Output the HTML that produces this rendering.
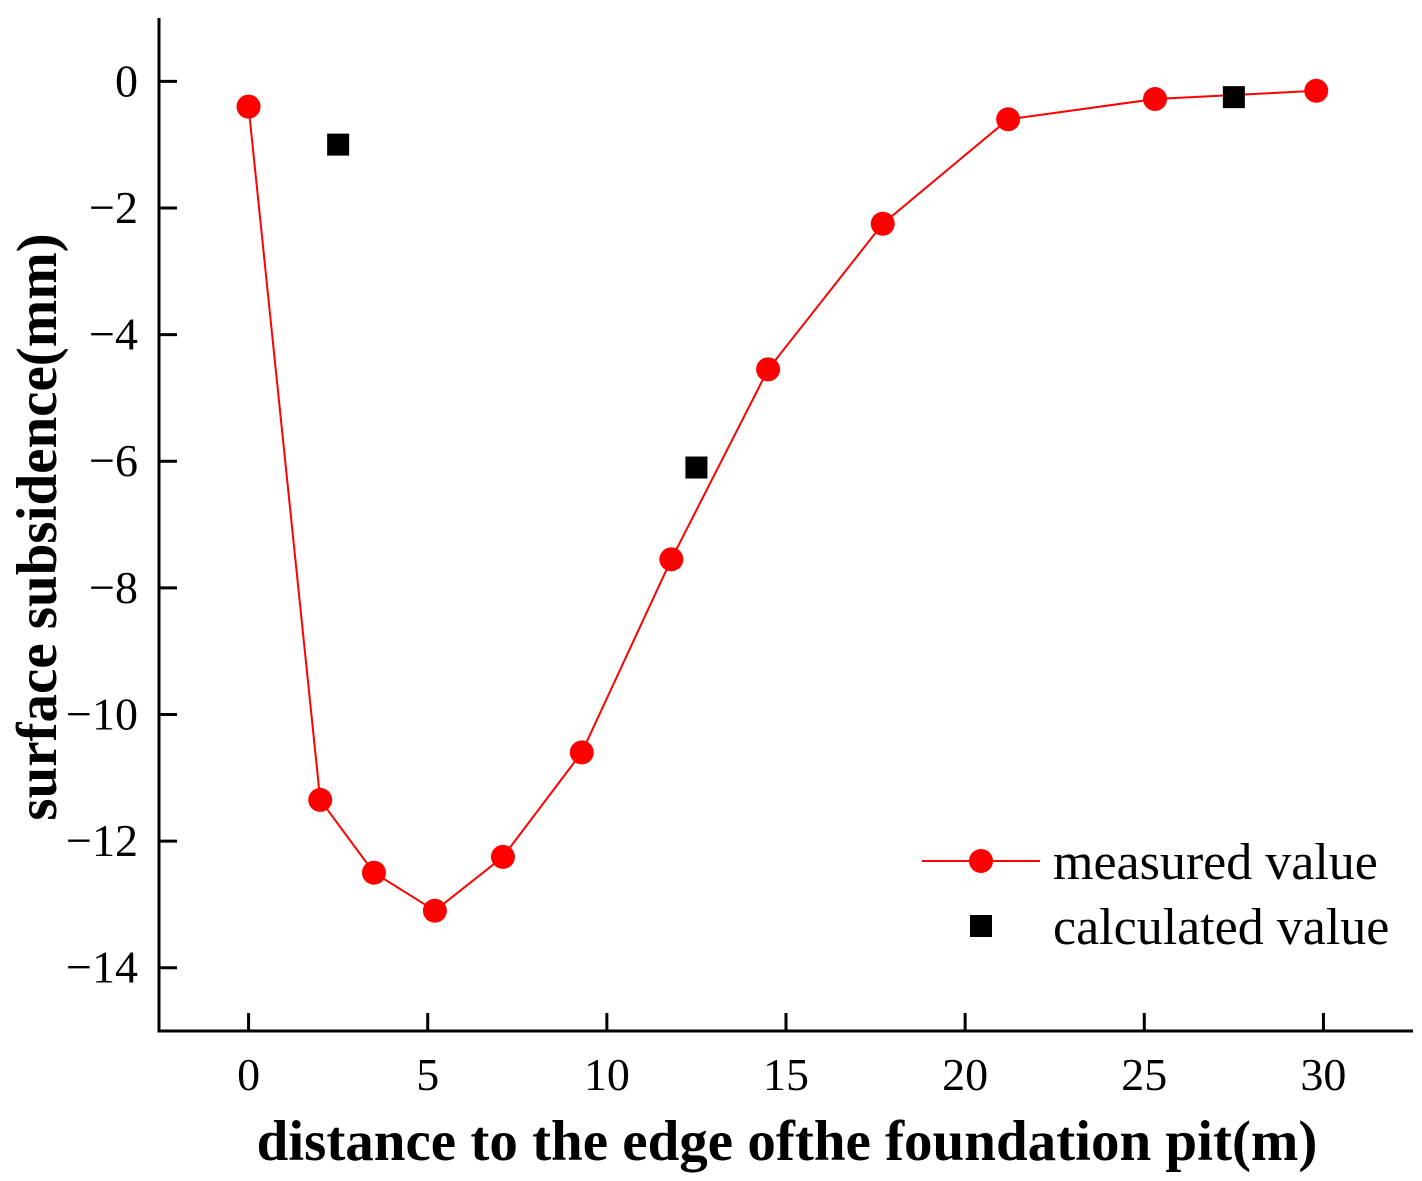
<!DOCTYPE html>
<html><head><meta charset="utf-8"><style>
body{margin:0;background:#fff}
svg{display:block;font-family:"Liberation Serif",serif}
</style></head><body>
<svg id="chart" width="1422" height="1181" viewBox="0 0 1422 1181"></svg>
<script>
const measuredX=[0,2,3.5,5.2,7.1,9.3,11.8,14.5,17.7,21.2,25.3,29.8];
const measuredY=[-0.4,-11.35,-12.5,-13.1,-12.25,-10.6,-7.55,-4.55,-2.25,-0.6,-0.28,-0.15];
const calcX=[2.5,12.5,27.5];
const calcY=[-1.0,-6.1,-0.25];
const xTicks=[0,5,10,15,20,25,30];
const yTicks=[0,-2,-4,-6,-8,-10,-12,-14];

const NS="http://www.w3.org/2000/svg";
const svg=document.getElementById('chart');
const X0=159,X1=1413,Y0=18,Y1=1031;
const xmin=-2.5,xmax=32.5,ymin=-15,ymax=1;
const sx=v=>X0+(v-xmin)/(xmax-xmin)*(X1-X0);
const sy=v=>Y1-(v-ymin)/(ymax-ymin)*(Y1-Y0);
function mk(t,a,txt){const e=document.createElementNS(NS,t);for(const k in a)e.setAttribute(k,a[k]);if(txt!==undefined)e.textContent=txt;svg.appendChild(e);return e;}

let e;
e=mk('line',{x1:X0,y1:Y0,x2:X0,y2:Y1+1.5,stroke:'#000','stroke-width':3});


e=mk('line',{x1:X0-1.5,y1:Y1,x2:X1,y2:Y1,stroke:'#000','stroke-width':3});



xTicks.forEach(v=>{
  e=mk('line',{x1:sx(v),y1:Y1,x2:sx(v),y2:Y1-18,stroke:'#000','stroke-width':3});
  
  
  e=mk('text',{x:sx(v),y:1090,'text-anchor':'middle','font-size':46},String(v));
  
  
});
yTicks.forEach(v=>{
  e=mk('line',{x1:X0,y1:sy(v),x2:X0+18,y2:sy(v),stroke:'#000','stroke-width':3});
  
  
  e=mk('text',{x:138,y:sy(v)+15,'text-anchor':'end','font-size':46},(v<0?'\u2212'+(-v):String(v)));
  
  
});

e=mk('text',{x:787,y:1160,'text-anchor':'middle','font-size':57,'font-weight':'bold'},'distance to the edge ofthe foundation pit(m)');


e=mk('text',{x:0,y:0,'text-anchor':'middle','font-size':57,'font-weight':'bold',transform:'translate(56,527) rotate(-90)'},'surface subsidence(mm)');



e=mk('polyline',{points:measuredX.map((x,i)=>sx(x)+','+sy(measuredY[i])).join(' '),fill:'none',stroke:'#ff0000','stroke-width':2});


measuredX.forEach((x,i)=>{
  e=mk('circle',{cx:sx(x),cy:sy(measuredY[i]),r:12,fill:'#ff0000'});
  
  
});
calcX.forEach((x,i)=>{
  e=mk('rect',{x:sx(x)-11,y:sy(calcY[i])-11,width:22,height:22,fill:'#000'});
  
  
});

e=mk('line',{x1:922,y1:861,x2:1040,y2:861,stroke:'#ff0000','stroke-width':2});


e=mk('circle',{cx:981,cy:861,r:12,fill:'#ff0000'});


e=mk('text',{x:1053,y:879,'font-size':52},'measured value');


e=mk('rect',{x:970,y:915,width:22,height:22,fill:'#000'});


e=mk('text',{x:1053,y:944,'font-size':52},'calculated value');


</script>
</body></html>
